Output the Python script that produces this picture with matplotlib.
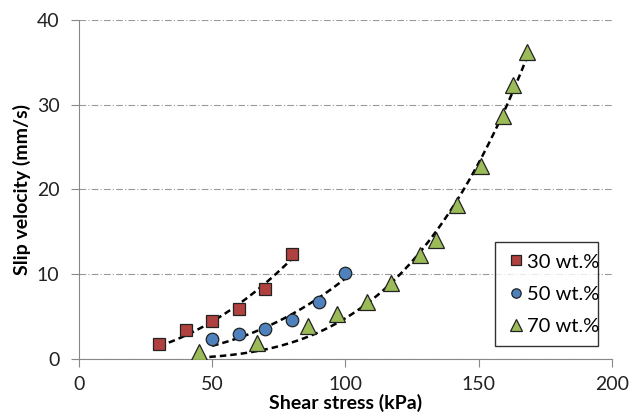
import numpy as np
import matplotlib
matplotlib.use("Agg")
import matplotlib.pyplot as plt

plt.rcParams['font.family'] = ['Lato', 'DejaVu Sans']

x30 = [30, 40, 50, 60, 70, 80]
y30 = [1.8, 3.4, 4.5, 5.9, 8.3, 12.4]
x50 = [50, 60, 70, 80, 90, 100]
y50 = [2.4, 2.9, 3.5, 4.6, 6.7, 10.1]
x70 = [45, 67, 86, 97, 108, 117, 128, 134, 142, 151, 159, 163, 168]
y70 = [0.8, 1.9, 3.9, 5.3, 6.7, 9.0, 12.2, 14.0, 18.2, 22.7, 28.6, 32.3, 36.2]
labels = ['30 wt.%', '50 wt.%', '70 wt.%']
colors = ['#B0413E', '#4F81BD', '#9BBB59']


def fit_slip(xs, ys):
    """Least-squares fit of y = k (x - x0)^n, grid search over x0 and n."""
    xs = np.asarray(xs, float)
    ys = np.asarray(ys, float)
    best = None
    for x0 in np.linspace(0, xs.min() + 5, 120):
        d = np.clip(xs - x0, 0, None)
        for n in np.linspace(1.0, 3.5, 101):
            f = d ** n
            k = (f @ ys) / (f @ f)
            err = np.sum((k * f - ys) ** 2)
            if best is None or err < best[0]:
                best = (err, k, x0, n)
    _, k, x0, n = best
    return lambda x: k * np.clip(np.asarray(x) - x0, 0, None) ** n, x0


fig = plt.figure(figsize=(6.32, 4.13), dpi=100)
ax = fig.add_axes([0.125, 0.131, 0.843, 0.821])

series = [(x30, y30, 's', 9), (x50, y50, 'o', 9), (x70, y70, '^', 11)]
for (xs, ys, m, ms), c, lab in zip(series, colors, labels):
    f, x0 = fit_slip(xs, ys)
    xf = np.linspace(max(min(xs), x0), max(xs), 200)
    ax.plot(xf, f(xf), color='black', lw=1.8, linestyle=(0, (2.6, 1.6)), zorder=2)
    ax.plot(xs, ys, m, color=c, markersize=ms, markeredgecolor='#222222',
            markeredgewidth=0.9, linestyle='none', label=lab, zorder=3)

ax.set_xlim(0, 200)
ax.set_ylim(0, 40)
ax.set_xticks([0, 50, 100, 150, 200])
ax.set_yticks([0, 10, 20, 30, 40])
ax.yaxis.grid(True, linestyle=(0, (6, 2, 1, 2)), color='#999999', lw=0.8)
ax.set_axisbelow(True)
for s in ['top', 'right']:
    ax.spines[s].set_visible(False)
for s in ['left', 'bottom']:
    ax.spines[s].set_color('#888888')
ax.tick_params(axis='both', colors='#888888', labelcolor='#222222', labelsize=14, length=6)
ax.tick_params(axis='x', pad=6)
ax.tick_params(axis='y', pad=8)
ax.set_xlabel('Shear stress (kPa)', fontsize=14, fontweight='bold', labelpad=1)
ax.set_ylabel('Slip velocity (mm/s)', fontsize=14, fontweight='bold', labelpad=4)

leg = ax.legend(loc='lower left', bbox_to_anchor=(0.781, 0.038, 0.193, 0.305), mode='expand',
                borderaxespad=0, frameon=True, fancybox=False, edgecolor='black', fontsize=14.5,
                handletextpad=0.05, handlelength=1.0, borderpad=0.55, labelspacing=0.75,
                markerscale=0.75)
leg.get_frame().set_linewidth(1.0)

fig.savefig('out.png', dpi=100)
